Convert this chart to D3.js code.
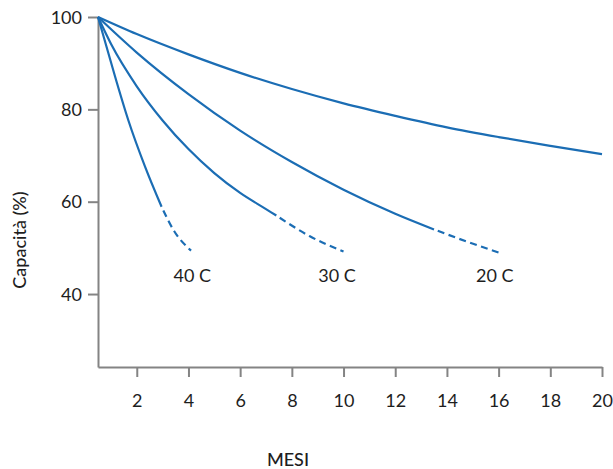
<!DOCTYPE html>
<html>
<head>
<meta charset="utf-8">
<script src="https://cdn.jsdelivr.net/npm/d3@7"></script>
<style>
  html, body { margin: 0; padding: 0; background: #fff; }
  svg { display: block; font-family: Lato, "Open Sans", sans-serif; }
</style>
</head>
<body>
<svg id="chart" width="613" height="469"></svg>
<script>
// ---- data ----
const xTicks = [2, 4, 6, 8, 10, 12, 14, 16, 18, 20];
const yTicks = [40, 60, 80, 100];

const topMonths = [0.5, 2, 4, 6, 8, 10, 12, 14, 16, 18, 20];
const topValues = [100, 96.3, 91.9, 87.9, 84.4, 81.3, 78.6, 76.1, 74.0, 72.1, 70.3];

const c20SolidMonths = [0.5, 2, 4, 6, 8, 10, 12, 13.5];
const c20SolidValues = [100, 92.3, 83.3, 75.4, 68.6, 62.6, 57.4, 54.0];
const c20DashMonths = [13.5, 14.75, 16];
const c20DashValues = [54.0, 51.4, 49.0];

const c30SolidMonths = [0.5, 1, 2, 3, 4, 5, 6, 7, 7.4];
const c30SolidValues = [100, 94.2, 85.0, 77.6, 71.4, 66.2, 61.9, 58.4, 57.0];
const c30DashMonths = [7.4, 8.7, 10];
const c30DashValues = [57.0, 52.5, 49.2];

const c40SolidMonths = [0.5, 1.16, 1.67, 2.32, 2.96];
const c40SolidValues = [100, 87.1, 77.7, 67.6, 58.9];
const c40DashMonths = [2.96, 3.45, 4.1];
const c40DashValues = [58.9, 53.6, 49.4];

const labelTexts = ["40 C", "30 C", "20 C"];
const labelMonths = [4.15, 9.75, 15.85];
const labelValue = 42.6;

// ---- chart ----
const svg = d3.select("#chart");
const x = d3.scaleLinear().domain([0.5, 20]).range([98, 602]);
const y = d3.scaleLinear().domain([24.2, 100]).range([367, 17]);

const blue = "#1b6db4";
const axisColor = "#848484";
const textColor = "#1e1e1e";

// axes
const yAxis = svg.append("g")
  .attr("transform", `translate(${x(0.5)},0)`)
  .call(d3.axisLeft(y).tickValues(yTicks).tickSize(10).tickSizeOuter(0).tickPadding(6));
const xAxis = svg.append("g")
  .attr("transform", `translate(0,${y(24.2)})`)
  .call(d3.axisBottom(x).tickValues(xTicks).tickSize(10).tickSizeOuter(0).tickPadding(17));

[yAxis, xAxis].forEach(g => {
  g.select(".domain").attr("stroke", axisColor).attr("stroke-width", 2);
  g.selectAll(".tick line").attr("stroke", axisColor).attr("stroke-width", 2);
  g.selectAll(".tick text")
    .attr("fill", textColor)
    .style("font-size", "18px")
    .style("font-family", "Lato, 'Open Sans', sans-serif");
});
xAxis.selectAll(".tick text").attr("dy", "0.71em");
yAxis.selectAll(".tick text").attr("dy", "0.34em");

// lines
const line = d3.line()
  .x(d => x(d[0]))
  .y(d => y(d[1]))
  .curve(d3.curveMonotoneX);

const zip = (a, b) => a.map((v, i) => [v, b[i]]);

const series = [
  { pts: zip(topMonths, topValues), dash: null },
  { pts: zip(c20SolidMonths, c20SolidValues), dash: null },
  { pts: zip(c20DashMonths, c20DashValues), dash: "7,4.5" },
  { pts: zip(c30SolidMonths, c30SolidValues), dash: null },
  { pts: zip(c30DashMonths, c30DashValues), dash: "7,4.5" },
  { pts: zip(c40SolidMonths, c40SolidValues), dash: null },
  { pts: zip(c40DashMonths, c40DashValues), dash: "7,4.5" }
];

svg.append("g").selectAll("path")
  .data(series)
  .join("path")
  .attr("d", d => line(d.pts))
  .attr("fill", "none")
  .attr("stroke", blue)
  .attr("stroke-width", 2.2)
  .attr("stroke-dasharray", d => d.dash)
  .attr("stroke-dashoffset", d => d.dash ? -4 : null);

// curve labels
svg.append("g").selectAll("text")
  .data(labelTexts)
  .join("text")
  .attr("x", (d, i) => x(labelMonths[i]))
  .attr("y", y(labelValue))
  .attr("text-anchor", "middle")
  .attr("fill", textColor)
  .style("font-size", "18px")
  .text(d => d);

// axis titles
svg.append("text")
  .attr("x", 288)
  .attr("y", 466)
  .attr("text-anchor", "middle")
  .attr("fill", textColor)
  .style("font-size", "18px")
  .style("font-weight", "500")
  .text("MESI");

svg.append("text")
  .attr("transform", "translate(26,240) rotate(-90)")
  .attr("text-anchor", "middle")
  .attr("fill", textColor)
  .style("font-size", "18px")
  .style("font-weight", "500")
  .text("Capacità (%)");
</script>
</body>
</html>
